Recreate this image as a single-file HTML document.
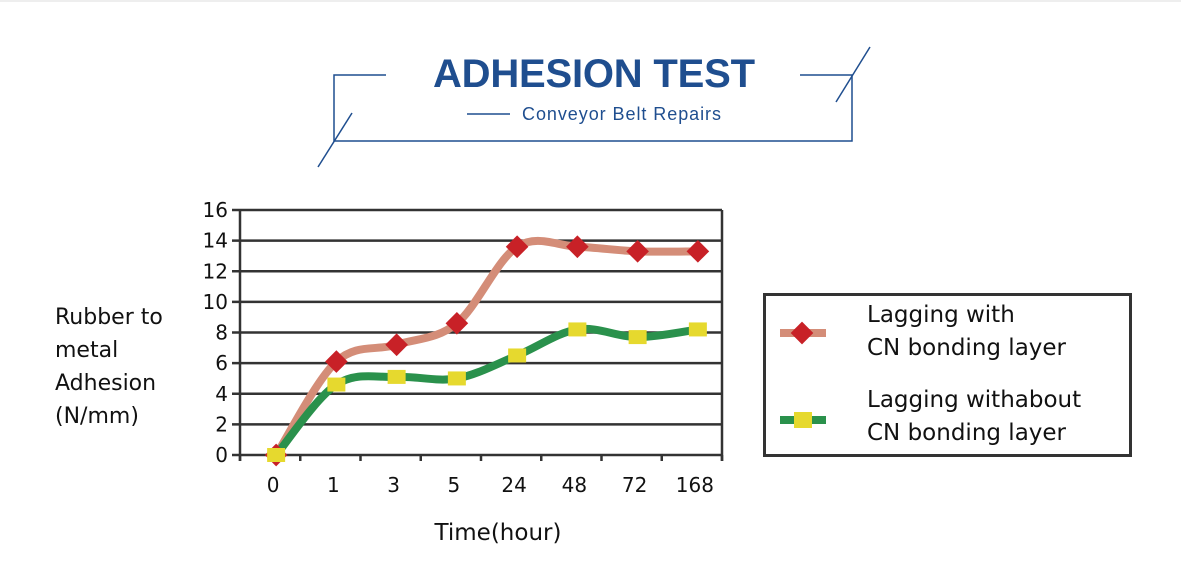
<!DOCTYPE html>
<html><head><meta charset="utf-8"><style>
body{margin:0;background:#fff;width:1181px;height:562px;overflow:hidden;font-family:"DejaVu Sans","Liberation Sans",sans-serif}
</style></head><body>
<svg width="1181" height="562" xmlns="http://www.w3.org/2000/svg" font-family="DejaVu Sans, Liberation Sans, sans-serif">
<line x1="0" y1="1" x2="1181" y2="1" stroke="#ddd"/>
<g stroke="#1f4e8f" stroke-width="1.5" fill="none">
<polyline points="386,75 334,75 334,141 852,141 852,75 800,75"/>
<line x1="318" y1="167" x2="352" y2="113"/>
<line x1="870" y1="47" x2="836" y2="102"/>
<line x1="467" y1="114" x2="510" y2="114"/>
</g>
<text x="594" y="87" text-anchor="middle" font-size="40" font-weight="bold" fill="#1f4e8f" font-family="Liberation Sans, sans-serif" textLength="322">ADHESION TEST</text>
<text x="522" y="120" font-size="18" fill="#1f4e8f" font-family="Liberation Sans, sans-serif" textLength="199">Conveyor Belt Repairs</text>
<g id="plot"></g>
<g font-size="22" fill="#111">
<text x="55" y="324">Rubber to</text><text x="55" y="357">metal</text><text x="55" y="390">Adhesion</text><text x="55" y="423">(N/mm)</text>
</g>
<text x="498" y="540" text-anchor="middle" font-size="23" fill="#111">Time(hour)</text>
<rect x="764.5" y="294.5" width="366" height="161" fill="#fff" stroke="#333" stroke-width="3"/>
<g>
<line x1="780" y1="333" x2="826" y2="333" stroke="#d48d78" stroke-width="8"/>
<rect x="794" y="325" width="16" height="16" fill="#c82127" transform="rotate(45 802 333)"/>
<text x="867" y="322" font-size="23" fill="#111">Lagging with</text>
<text x="867" y="355" font-size="23" fill="#111">CN bonding layer</text>
</g>
<g>
<line x1="780" y1="420" x2="826" y2="420" stroke="#2a914c" stroke-width="8"/>
<rect x="794" y="412" width="18" height="16" fill="#e6d92e"/>
<text x="867" y="407" font-size="23" fill="#111">Lagging withabout</text>
<text x="867" y="440" font-size="23" fill="#111">CN bonding layer</text>
</g>
</svg>
<script>
const categories=["0","1","3","5","24","48","72","168"];
const withCN=[0,6.1,7.2,8.6,13.6,13.6,13.3,13.3];
const withoutCN=[0,4.6,5.1,5.0,6.5,8.2,7.7,8.2];
const yTicks=[0,2,4,6,8,10,12,14,16];
const NS="http://www.w3.org/2000/svg";
const X0=240,X1=722,Y0=455,Y1=210,YMAX=16;
const bw=(X1-X0)/categories.length;
function xs(i){return X0+bw*(i+0.5)+6;}
function ys(v){return Y0-(v/YMAX)*(Y0-Y1);}
const g=document.getElementById('plot');
function el(t,a){const e=document.createElementNS(NS,t);for(const k in a)e.setAttribute(k,a[k]);g.appendChild(e);return e;}
yTicks.forEach(v=>{
 const l=el('line',{x1:X0-8,x2:X1,y1:ys(v),y2:ys(v),stroke:'#333','stroke-width':2.5});
 
 
 const t=el('text',{x:X0-12,y:ys(v)+7,'text-anchor':'end','font-size':20,fill:'#111'});
 t.textContent=v;
 
 
});
const ax=el('line',{x1:X0,x2:X0,y1:Y1,y2:Y0+6,stroke:'#333','stroke-width':2.5});


const rx=el('line',{x1:X1,x2:X1,y1:Y1,y2:Y0+6,stroke:'#333','stroke-width':2.5});


for(let i=0;i<=categories.length;i++){
 const tk=el('line',{x1:X0+bw*i,x2:X0+bw*i,y1:Y0,y2:Y0+6,stroke:'#333','stroke-width':2.5});
 
 
}
categories.forEach((c,i)=>{
 const t=el('text',{x:X0+bw*(i+0.5)+3,y:492,'text-anchor':'middle','font-size':20,fill:'#111'});
 t.textContent=c;
 
 
});
function path(vals){
 const p=vals.map((v,i)=>[xs(i),ys(v)]);
 let d='M'+p[0][0]+','+p[0][1];
 for(let i=0;i<p.length-1;i++){
  const a=p[i-1]||p[i],b=p[i],c=p[i+1],e=p[i+2]||c;
  d+=' C'+(b[0]+(c[0]-a[0])/6)+','+(b[1]+(c[1]-a[1])/6)+' '+(c[0]-(e[0]-b[0])/6)+','+(c[1]-(e[1]-b[1])/6)+' '+c[0]+','+c[1];
 }
 return d;
}
const l1=el('path',{d:path(withCN),fill:'none',stroke:'#d48d78','stroke-width':8});


const l2=el('path',{d:path(withoutCN),fill:'none',stroke:'#2a914c','stroke-width':8});


withCN.forEach((v,i)=>{
 const x=xs(i),y=ys(v);
 const m=el('rect',{x:x-8,y:y-8,width:16,height:16,fill:'#c82127',transform:`rotate(45 ${x} ${y})`});
 
 
});
withoutCN.forEach((v,i)=>{
 const x=xs(i),y=ys(v);
 const m=el('rect',{x:x-9,y:y-7,width:18,height:14,fill:'#e6d92e'});
 
 
});
</script>
</body></html>
